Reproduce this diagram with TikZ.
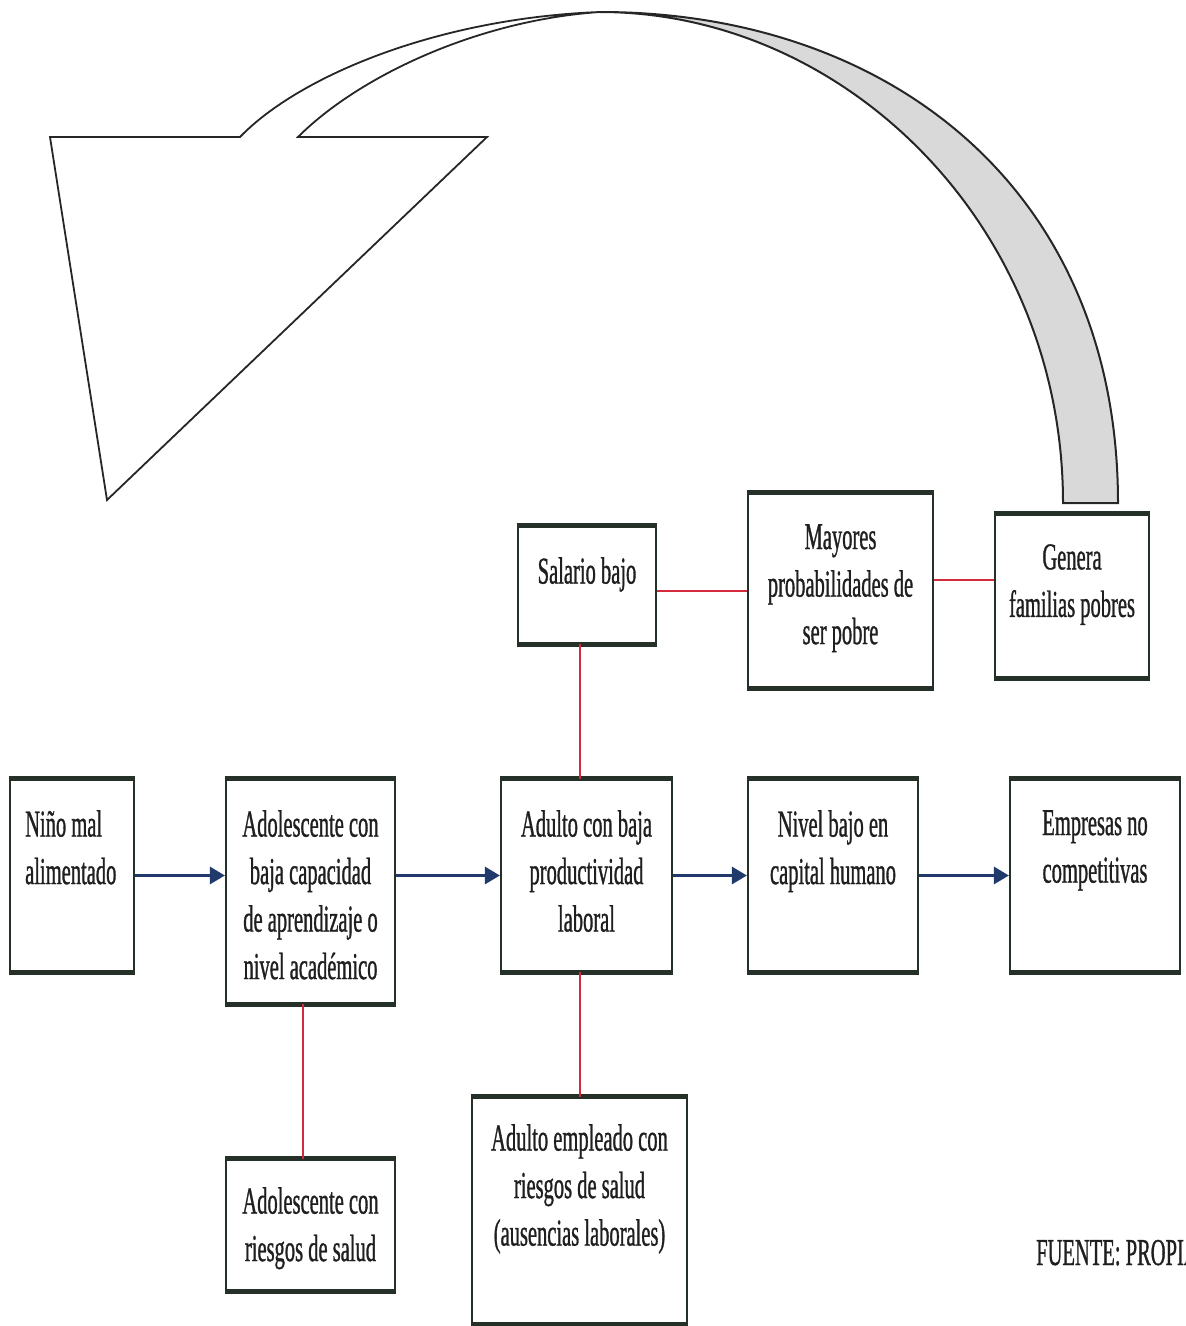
\documentclass[tikz,border=0pt]{standalone}
\usepackage{fontspec}
\setmainfont{Liberation Serif}[FakeStretch=0.54, FakeBold=0.8]
\usetikzlibrary{arrows.meta}

\definecolor{boxline}{HTML}{243028}
\definecolor{flowblue}{HTML}{1F3A6B}
\definecolor{linkred}{HTML}{D42A3E}
\definecolor{bandgray}{HTML}{D9D9D9}

\tikzset{
  box/.style={draw=boxline, line width=2.2pt, rectangle, inner sep=0pt, fill=white},
  rim/.style={draw=boxline, line width=5pt},
  txt/.style={anchor=north, inner sep=0pt, align=center,
              font=\fontsize{38}{47.5}\selectfont, text=black!88},
  flow/.style={draw=flowblue, line width=3pt,
               -{Triangle[length=15pt, width=17pt]}},
  link/.style={draw=linkred, line width=1.3pt},
  band/.style={draw=black!85, line width=2pt, fill=bandgray},
  head/.style={draw=black!85, line width=1.8pt, fill=white, line join=miter},
}

\begin{document}
\begin{tikzpicture}[x=1pt, y=-1pt]
\useasboundingbox (0,0) rectangle (1186,1326);

% curved return arrow: shaded back of the band, then the front band with its head
\draw[band] (1118,503) .. controls (1118,190) and (890,12) .. (600,12)
            .. controls (845,12) and (1063,225) .. (1063,503) -- cycle;
\draw[head] (50,137) -- (240,137) .. controls (300,75) and (440,18) .. (600,12)
            .. controls (480,20) and (360,75) .. (298,137)
            -- (487,137) -- (107,500) -- cycle;

% boxes
\node[box, minimum width=124pt, minimum height=191pt] (nino)     at (72,875.5)   {};
\node[box, minimum width=169pt, minimum height=223pt] (adol)     at (310.5,891.5) {};
\node[box, minimum width=171pt, minimum height=191pt] (adulto)   at (586.5,875.5) {};
\node[box, minimum width=170pt, minimum height=191pt] (nivel)    at (833,875.5)  {};
\node[box, minimum width=170pt, minimum height=191pt] (empresas) at (1095,875.5) {};
\node[box, minimum width=138pt, minimum height=116pt] (salario)  at (587,585)    {};
\node[box, minimum width=185pt, minimum height=193pt] (mayores)  at (840.5,590.5) {};
\node[box, minimum width=154pt, minimum height=162pt] (genera)   at (1072,596)   {};
\node[box, minimum width=169pt, minimum height=130pt] (adolr)    at (310.5,1225) {};
\node[box, minimum width=215pt, minimum height=225pt] (adultoe)  at (579.5,1210.5) {};

% heavier top and bottom edges of every box
\foreach \b in {nino,adol,adulto,nivel,empresas,salario,mayores,genera,adolr,adultoe}{
  \draw[rim] (\b.north west) -- (\b.north east);
  \draw[rim] (\b.south west) -- (\b.south east);
}

% texts
\node[txt, anchor=north west, align=left] (tnino) at (25,810) {Niño mal\\alimentado};
\node[txt] (tadol)     at (310.5,810) {Adolescente con\\baja capacidad\\de aprendizaje o\\nivel académico};
\node[txt] (tadulto)   at (586.5,810) {Adulto con baja\\productividad\\laboral};
\node[txt] (tnivel)    at (833,810)   {Nivel bajo en\\capital humano};
\node[txt] (tempresas) at (1095,810)  {Empresas no\\competitivas};
\node[txt] (tsalario)  at (587,557)   {Salario bajo};
\node[txt] (tmayores)  at (840.5,524) {Mayores\\probabilidades de\\ser pobre};
\node[txt] (tgenera)   at (1072,544)  {Genera\\familias pobres};
\node[txt] (tadolr)    at (310.5,1187) {Adolescente con\\riesgos de salud};
\node[txt] (tadultoe)  at (579.5,1124) {Adulto empleado con\\riesgos de salud\\(ausencias laborales)};

% main chain
\draw[flow] (nino.east) -- (nino.east -| adol.west);
\draw[flow] (adulto.west -| adol.east) -- (adulto.west);
\draw[flow] (adulto) -- (nivel);
\draw[flow] (nivel) -- (empresas);

% side links
\draw[link] ([xshift=-7pt]salario.south) -- ([xshift=-7pt]salario.south |- adulto.north);
\draw[link] ([yshift=-6pt]salario.east) -- ([yshift=-6pt]salario.east -| mayores.west);
\draw[link] ([yshift=10.5pt]mayores.east) -- ([yshift=10.5pt]mayores.east -| genera.west);
\draw[link] ([xshift=-7.5pt]adol.south) -- ([xshift=-7.5pt]adol.south |- adolr.north);
\draw[link] ([xshift=-6.5pt]adulto.south) -- ([xshift=-6.5pt]adulto.south |- adultoe.north);

% source note, cut at the page edge
\begin{scope}
  \clip (0,0) rectangle (1186,1326);
  \node[txt, anchor=base west] (fuente) at (1036,1265) {FUENTE: PROPIA};
\end{scope}
\end{tikzpicture}
\end{document}
